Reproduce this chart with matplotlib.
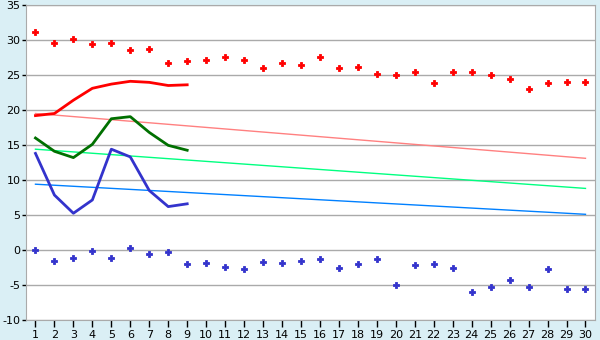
import numpy as np
import matplotlib
matplotlib.use("Agg")
import matplotlib.pyplot as plt

plt.rcParams["axes.unicode_minus"] = False

days = np.arange(1, 31)

# daily highs / lows (points)
high_pts = [31.2, 29.5, 30.1, 29.4, 29.5, 28.5, 28.7, 26.7, 26.95, 27.2,
            27.5, 27.1, 25.95, 26.7, 26.4, 27.5, 25.95, 26.1, 25.1, 24.95,
            25.4, 23.8, 25.5, 25.4, 24.95, 24.4, 22.95, 23.8, 23.95, 23.95]
low_pts = [0.0, -1.6, -1.2, -0.2, -1.2, 0.25, -0.6, -0.35, -2.05, -1.9,
           -2.45, -2.75, -1.75, -1.9, -1.5, -1.35, -2.6, -2.05, -1.35, -5.05,
           -2.2, -2.05, -2.6, -6.05, -5.35, -4.35, -5.35, -2.75, -5.6, -5.6]

# first 9 days lines
line_days = np.arange(1, 10)
red_line = [19.2, 19.5, 21.4, 23.1, 23.7, 24.1, 23.95, 23.5, 23.6]
green_line = [16.0, 14.1, 13.2, 15.1, 18.75, 19.05, 16.8, 14.95, 14.25]
blue_line = [13.8, 7.85, 5.25, 7.15, 14.4, 13.3, 8.5, 6.2, 6.6]

# trend lines (start, end)
trend_red = [19.5, 13.1]
trend_green = [14.4, 8.8]
trend_blue = [9.4, 5.1]

fig = plt.figure(figsize=(6, 3.4), dpi=100, facecolor="#DAEFF5")
ax = fig.add_axes([0.0433, 0.0588, 0.9483, 0.9265])
ax.set_facecolor("white")

for y in range(-10, 36, 5):
    ax.axhline(y, color="#AAAAAA", lw=1, zorder=1)

ax.plot([1, 30], trend_red, color="#FF8080", lw=1, zorder=2)
ax.plot([1, 30], trend_green, color="#00FF80", lw=1, zorder=2)
ax.plot([1, 30], trend_blue, color="#0080FF", lw=1, zorder=2)

ax.plot(line_days, red_line, color="#FF0000", lw=2, zorder=3)
ax.plot(line_days, green_line, color="#007000", lw=2, zorder=3)
ax.plot(line_days, blue_line, color="#3333CC", lw=2, zorder=3)

ax.plot(days, high_pts, "P", color="#FF0000", ms=4.5, mew=0.6, ls="none", zorder=4)
ax.plot(days, low_pts, "P", color="#3333CC", ms=4.5, mew=0.6, ls="none", zorder=4)

ax.set_xlim(0.5, 30.5)
ax.set_ylim(-10, 35)
ax.set_xticks(days)
ax.set_yticks(range(-10, 36, 5))
ax.tick_params(axis="x", labelsize=8, color="black", length=5, width=1, pad=2)
ax.tick_params(axis="y", labelsize=8, color="black", length=3, width=1, pad=1)
for s in ax.spines.values():
    s.set_color("#AAAAAA")

fig.savefig("out.png", dpi=100, facecolor=fig.get_facecolor())
